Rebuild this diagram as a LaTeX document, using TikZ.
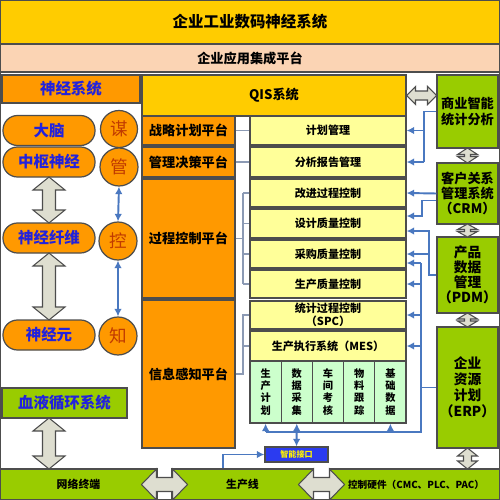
\documentclass[tikz,border=0pt]{standalone}
\usepackage{fontspec}
\setmainfont{Noto Sans CJK SC}
\usetikzlibrary{calc,arrows.meta}

\definecolor{titleyel}{HTML}{FFCC00}
\definecolor{peach}{HTML}{FBD4B4}
\definecolor{orng}{HTML}{FF9900}
\definecolor{grn}{HTML}{99CC00}
\definecolor{lyel}{HTML}{FFFF99}
\definecolor{lgrn}{HTML}{CCFFCC}
\definecolor{bord}{HTML}{4D4D4D}
\definecolor{bluetxt}{HTML}{2222DD}
\definecolor{redtxt}{HTML}{C03A00}
\definecolor{linkblue}{HTML}{4A78C0}
\definecolor{linkgrey}{HTML}{8C9AB4}
\definecolor{arrowgrey}{HTML}{DEDED0}
\definecolor{ifaceblue}{HTML}{2B3BF0}

\tikzset{
  pics/dblarrow/.style n args={4}{code={
    \draw[greyarrow] ({-#1/2},0) -- ({-#1/2+#4},{#2/2}) -- ({-#1/2+#4},{#3/2})
      -- ({#1/2-#4},{#3/2}) -- ({#1/2-#4},{#2/2}) -- ({#1/2},0)
      -- ({#1/2-#4},{-#2/2}) -- ({#1/2-#4},{-#3/2}) -- ({-#1/2+#4},{-#3/2})
      -- ({-#1/2+#4},{-#2/2}) -- cycle;
  }}
}

\begin{document}
\begin{tikzpicture}[
  x=0.2mm, y=-0.2mm,
  box/.style={draw=bord, line width=0.7pt, inner sep=0pt, align=center},
  bigtitle/.style={box, fill=titleyel, font=\fontsize{8.8}{10}\selectfont\bfseries},
  nervebox/.style={box, font=\fontsize{8.8}{10}\selectfont\bfseries, text=bluetxt},
  pill/.style={nervebox, fill=orng, minimum width=18.4mm, minimum height=6mm, rounded corners=2.9mm},
  mind/.style={box, circle, fill=orng, minimum size=7.6mm, font=\fontsize{10}{11}\selectfont, text=redtxt},
  platform/.style={box, fill=orng, minimum width=18.6mm, font=\fontsize{7.5}{9}\selectfont\bfseries},
  module/.style={box, fill=lyel, minimum width=31.2mm, font=\fontsize{6.3}{7.6}\selectfont\bfseries},
  submodule/.style={box, fill=lgrn, minimum width=6.24mm, minimum height=12.4mm, font=\fontsize{5.8}{6.9}\selectfont\bfseries},
  sidebox/.style={box, fill=grn, minimum width=12.2mm, font=\fontsize{7.5}{8.6}\selectfont\bfseries},
  barbox/.style={box, fill=grn, minimum height=6.2mm, font=\fontsize{6.2}{7}\selectfont\bfseries},
  greyarrow/.style={draw=bord, fill=arrowgrey, line width=0.6pt},
  blink/.style={draw=linkblue, line width=1.1pt, >={Latex[length=1.5mm,width=1.5mm]}},
  glink/.style={draw=linkgrey, line width=0.7pt}
]
\useasboundingbox (0,0) rectangle (500,500);
\fill[white] (0,0) rectangle (500,500);

\node[bigtitle, minimum width=100mm, minimum height=8.8mm] (title) at (250,22) {企业工业数码神经系统};
\node[box, fill=peach, line width=1pt, minimum width=100mm, minimum height=5.6mm, font=\fontsize{7.5}{9}\selectfont\bfseries] (eai) at (250,58) {企业应用集成平台};

\node[nervebox, fill=orng, minimum width=27.6mm, minimum height=5.6mm] (nerve) at (71,89) {神经系统};
\node[pill] (brain) at (49,130.5) {大脑};
\node[pill] (central) at (49,162) {中枢神经};
\node[pill] (fiber) at (49,238) {神经纤维};
\node[pill] (neuron) at (49,335) {神经元};
\node[mind, minimum size=7.4mm] (mou) at (119,129) {谋};
\node[mind] (guan) at (119,167) {管};
\node[mind] (kong) at (118,241) {控};
\node[mind] (zhi) at (118,336) {知};
\node[nervebox, fill=grn, minimum width=25mm, minimum height=6mm] (blood) at (64.5,403) {血液循环系统};

\node[box, fill=titleyel, minimum width=52.8mm, minimum height=8.2mm, font=\fontsize{7.5}{9}\selectfont\bfseries] (qis) at (274,95.5) {QIS系统};
\node[platform, minimum height=5.8mm] (strategy) at (188.5,130.5) {战略计划平台};
\node[platform, minimum height=6mm] (decision) at (188.5,162) {管理决策平台};
\node[platform, minimum height=23.8mm] (process) at (188.5,238.5) {过程控制平台};
\node[platform, minimum height=29.6mm] (sensing) at (188.5,374) {信息感知平台};

\node[module, minimum height=5.8mm] (plan) at (328,130.5) {计划管理};
\node[module, minimum height=6mm] (report) at (328,162) {分析报告管理};
\node[module, minimum height=5.6mm] (improve) at (328,193) {改进过程控制};
\node[module, minimum height=5.8mm] (design) at (328,223.5) {设计质量控制};
\node[module, minimum height=5.6mm] (purchase) at (328,254) {采购质量控制};
\node[module, minimum height=5.6mm] (produce) at (328,284) {生产质量控制};
\node[module, minimum height=5.6mm] (spc) at (328,315) {统计过程控制\\（SPC）};
\node[module, minimum height=6mm] (mes) at (328,346) {生产执行系统（MES）};
\foreach \n/\cx/\txt in {1/265.6/{生\\产\\计\\划}, 2/296.8/{数\\据\\采\\集}, 3/328/{车\\间\\考\\核},
                         4/359.2/{物\\料\\跟\\踪}, 5/390.4/{基\\础\\数\\据}}
  \node[submodule] (sub\n) at (\cx,392) {\txt};

\node[sidebox, minimum height=14.6mm] (bi) at (467.5,111.5) {商业智能\\统计分析};
\node[sidebox, minimum height=12.2mm] (crm) at (467.5,193.5) {客户关系\\管理系统\\（CRM）};
\node[sidebox, minimum height=15.2mm, font=\fontsize{7.8}{8.6}\selectfont\bfseries] (pdm) at (467.5,275) {产品\\数据\\管理\\（PDM）};
\node[sidebox, minimum height=24.2mm, font=\fontsize{7.8}{9}\selectfont\bfseries] (erp) at (467.5,387.5) {企业\\资源\\计划\\（ERP）};

\node[barbox, minimum width=31.4mm] (terminal) at (78.5,484.5) {网络终端};
\node[barbox, minimum width=28.2mm] (line) at (242.5,484.5) {生产线};
\node[barbox, minimum width=34.4mm, font=\fontsize{5.5}{7}\selectfont\bfseries] (hardware) at (416,484.5) {控制硬件（CMC、PLC、PAC）};
\node[box, fill=ifaceblue, minimum width=12.6mm, minimum height=3mm, text=yellow, font=\fontsize{4.6}{5}\selectfont\bfseries] (iface) at (296.5,454.5) {智能接口};

\pic[rotate=90] at ($(central.south)!.5!(fiber.north)$) {dblarrow={46}{32}{13}{13}};
\pic[rotate=90] at ($(fiber.south)!.5!(neuron.north)$) {dblarrow={67}{32}{13}{13}};
\pic[rotate=90] at ($(blood.south -| central.south)!.5!(terminal.north -| central.south)$) {dblarrow={51}{32}{13}{13}};
\pic at ($(terminal.east)!.5!(line.west)$) {dblarrow={46}{31}{14}{15}};
\pic at ($(line.east)!.5!(hardware.west)$) {dblarrow={46}{31}{14}{15}};
\pic at ($(qis.east)!.5!(qis.east -| bi.west)$) {dblarrow={30}{18}{9}{9}};
\pic[rotate=90] at ($(bi.south)!.5!(crm.north)$) {dblarrow={15}{20}{6}{6.5}};
\pic[rotate=90] at ($(crm.south)!.5!(pdm.north)$) {dblarrow={13}{20}{6}{5.5}};
\pic[rotate=90] at ($(pdm.south)!.5!(erp.north)$) {dblarrow={14}{20}{6}{6}};
\pic[rotate=90] at ($(erp.south)!.5!(erp.south |- hardware.north)$) {dblarrow={21}{20}{8}{8}};

\draw[blink, <->] (guan.south) -- (kong.north);
\draw[blink, <->] (kong.south) -- (zhi.north);

\coordinate (pbus) at (243,0);
\draw[glink] (strategy) -- (plan);
\draw[glink] (decision) -- (report);
\draw[glink] (process.east) -- (process.east -| pbus);
\draw[glink] (improve.west -| pbus) -- (produce.west -| pbus);
\foreach \m in {improve,design,purchase,produce}
  \draw[glink] (\m.west -| pbus) -- (\m.west);
\draw[glink] (sensing.east) -- (sensing.east -| pbus) -- (spc.west -| pbus) -- (spc.west);
\draw[glink] (mes.west -| pbus) -- (mes.west);

\coordinate (bibus) at (424,0);
\draw[blink] (bi.west) -- (bi.west -| bibus) -- (bibus |- report.east);
\draw[blink, ->] (bibus |- plan.east) -- (plan.east);
\draw[blink, ->] (bibus |- report.east) -- (report.east);

\coordinate (crmbus) at (422,216);
\draw[blink, ->] (crm.west) -- (improve.east);
\draw[blink, ->] ($(crm.west)+(0,7)$) -| (crmbus) -- (crmbus -| design.east);

\coordinate (pdmbus) at (429,231);
\draw[blink, ->] (pdm.west) -| (pdmbus) -- (pdmbus -| design.east);
\draw[blink, ->] (pdmbus |- purchase.east) -- (purchase.east);

\coordinate (erptop) at (421,263);
\coordinate (erpbot) at (421,432);
\draw[blink] (erp.west) -- (erp.west -| erptop);
\draw[blink] (erptop) -- (erpbot) -- (erpbot -| sub1.south);
\draw[blink, ->] (erptop) -- (erptop -| purchase.east);
\foreach \m in {produce,spc,mes}
  \draw[blink, ->] (erptop |- \m.east) -- (\m.east);
\draw[blink, ->] (erpbot -| sub1.south) -- (sub1.south);
\draw[blink, ->] (erpbot -| sub5.south) -- (sub5.south);
\draw[blink, <->] (sub2.south) -- (iface.north);

\coordinate (ifaceup) at (223,0);
\draw[blink, ->] (line.north -| ifaceup) |- (iface.west);

\draw[bord, line width=1pt] (0,0) rectangle (500,500);
\end{tikzpicture}
\end{document}
